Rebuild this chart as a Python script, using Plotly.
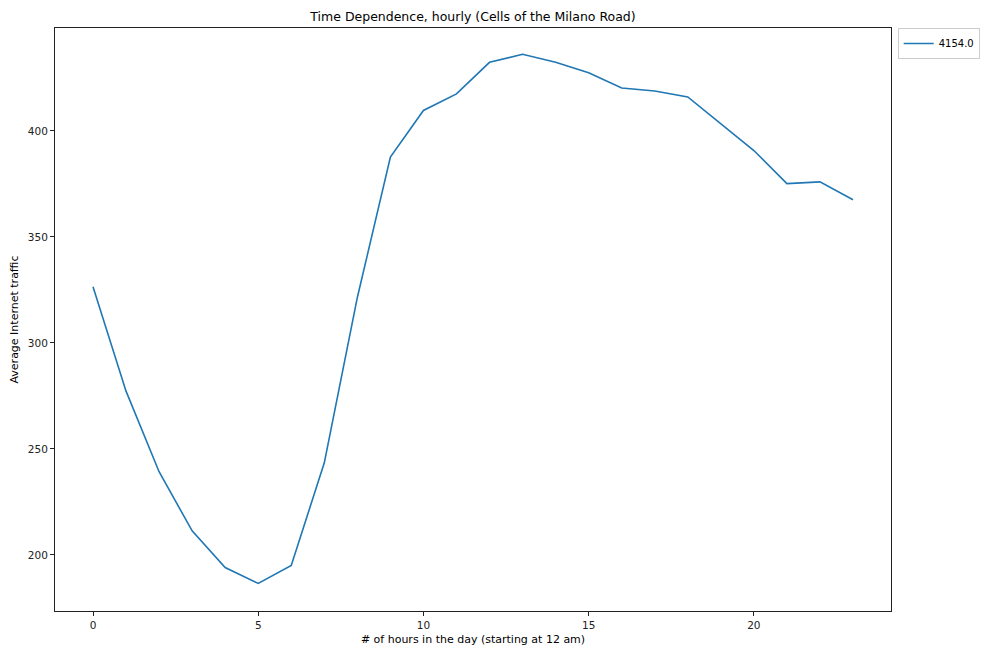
import plotly.graph_objects as go

# Average internet traffic per hour of the day for cell 4154
hours = list(range(24))
traffic = [326.4, 277.2, 239.2, 211.3, 194.0, 186.5, 195.0, 243.4, 321.4, 387.6,
           409.6, 417.4, 432.3, 436.1, 432.3, 427.4, 420.2, 418.8, 416.0, 403.3,
           390.7, 375.1, 375.9, 367.5]
series_name = "4154.0"
x_ticks = [0, 5, 10, 15, 20]
y_ticks = [200, 250, 300, 350, 400]

font_family = "DejaVu Sans, Liberation Sans, sans-serif"

fig = go.Figure()
fig.add_trace(go.Scatter(
    x=hours, y=traffic, mode="lines", name=series_name,
    line=dict(color="#1f77b4", width=1.6),
    showlegend=True,
))

axis_common = dict(
    showline=True, linecolor="#222222", linewidth=1, mirror=True,
    showgrid=False, zeroline=False,
    ticks="outside", ticklen=4, tickwidth=1, tickcolor="#222222",
    tickfont=dict(family=font_family, size=10.5, color="#222222"),
)

fig.update_layout(
    width=981, height=652,
    paper_bgcolor="white", plot_bgcolor="white",
    margin=dict(l=55, r=90, t=28, b=41, autoexpand=False),
    title=dict(
        text="Time Dependence, hourly (Cells of the Milano Road)",
        x=(55 + 891) / 2 / 981, xanchor="center",
        y=1 - 17 / 652, yanchor="middle",
        font=dict(family=font_family, size=12.5, color="#000000"),
    ),
    xaxis=dict(
        range=[-1.15, 24.15], tickvals=x_ticks,
        title=dict(text="# of hours in the day (starting at 12 am)",
                   font=dict(family=font_family, size=11, color="#000000"),
                   standoff=5),
        **axis_common,
    ),
    yaxis=dict(
        range=[173.5, 448.5], tickvals=y_ticks,
        title=dict(text="Average Internet traffic",
                   font=dict(family=font_family, size=11, color="#000000"),
                   standoff=7),
        **axis_common,
    ),
    legend=dict(
        x=1.008, y=1.0, xanchor="left", yanchor="top",
        bordercolor="#cccccc", borderwidth=1, bgcolor="white",
        font=dict(family=font_family, size=10, color="#000000"),
    ),
)

fig.write_html("out.html")
